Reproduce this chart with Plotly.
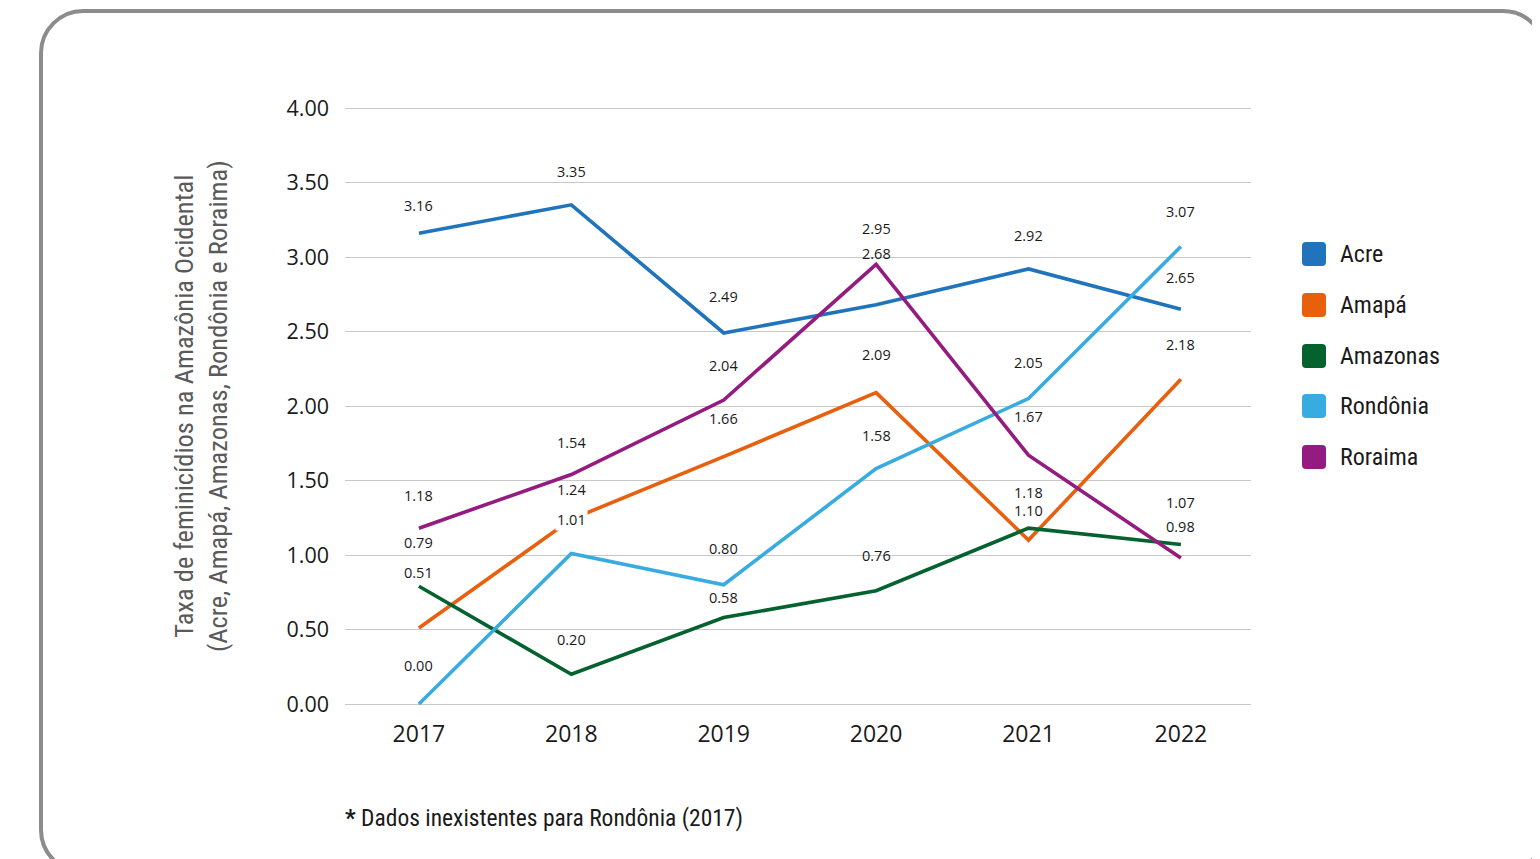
import plotly.graph_objects as go

# ---------------- data ----------------
years = [2017, 2018, 2019, 2020, 2021, 2022]
states = ["Acre", "Amapá", "Amazonas", "Rondônia", "Roraima"]
acre = [3.16, 3.35, 2.49, 2.68, 2.92, 2.65]
amapa = [0.51, 1.24, 1.66, 2.09, 1.10, 2.18]
amazonas = [0.79, 0.20, 0.58, 0.76, 1.18, 1.07]
rondonia = [0.00, 1.01, 0.80, 1.58, 2.05, 3.07]
roraima = [1.18, 1.54, 2.04, 2.95, 1.67, 0.98]
y_ticks = [0.0, 0.5, 1.0, 1.5, 2.0, 2.5, 3.0, 3.5, 4.0]
y_title = "Taxa de feminicídios na Amazônia Ocidental<br>(Acre, Amapá, Amazonas, Rondônia e Roraima)"
footnote = "<b>*</b> Dados inexistentes para Rondônia (2017)"

series = [acre, amapa, amazonas, rondonia, roraima]
colors = ["#2074BC", "#E8600E", "#04622F", "#38ABE0", "#941C80"]

# label vertical pixel offsets (style only), per series and year
label_shift = [
    [28, 33, 36, 51, 33, 32],   # Acre
    [56, 30, 38, 38, 30, 35],   # Amapá
    [44, 35, 20, 35, 36, 42],   # Amazonas
    [39, 34, 36, 33, 36, 35],   # Rondônia
    [33, 32, 35, 36, 39, 31],   # Roraima
]
# labels drawn on an opaque white box (series index, year index)
boxed_labels = {(3, 1)}

OFF = 8  # page body margin
W, H = 1540 - OFF, 859 - OFF
PAD = 3  # extra pixels so edge gridlines (0 and 4) are drawn
L, R, T, B = 345 - OFF, 1251 - OFF, 108 - OFF - PAD, 704 - OFF + PAD  # plot area in figure pixels
YPAD = PAD / 149.0


def px(x):
    x = x - OFF
    return (x - L) / (R - L)


def py(y):
    y = y - OFF
    return (B - y) / (B - T)


fig = go.Figure()
for name, vals, col in zip(states, series, colors):
    fig.add_trace(go.Scatter(x=years, y=vals, mode="lines", name=name,
                             line=dict(color=col, width=3.6), showlegend=False,
                             hoverinfo="x+y+name"))

annotations = []
for si, (vals, shifts) in enumerate(zip(series, label_shift)):
    for yi, (x, v, s) in enumerate(zip(years, vals, shifts)):
        ann = dict(x=x, y=v, text=f"{v:.2f}", showarrow=False,
                   yshift=s, xanchor="center", yanchor="middle",
                   font=dict(family="Open Sans, Noto Sans", size=14.5, color="#1a1a1a"))
        if (si, yi) in boxed_labels:
            ann.update(bgcolor="white", borderpad=1)
        annotations.append(ann)

COND = "Liberation Sans Narrow, Roboto Condensed, Roboto"
# y-axis title
annotations.append(dict(xref="paper", yref="paper", x=px(200), y=py(406), text=y_title,
                        showarrow=False, textangle=-90, xanchor="center", yanchor="middle",
                        font=dict(family=COND, size=26.5, color="#5a5a5a")))

# footnote
annotations.append(dict(xref="paper", yref="paper", x=px(343), y=py(818), text=footnote,
                        showarrow=False, xanchor="left", yanchor="middle",
                        font=dict(family=COND, size=23.5, color="#1a1a1a")))

shapes = []
# legend (manual rounded squares + labels)
leg_y = [254, 305, 356, 406, 457]
for name, col, ly in zip(states, colors, leg_y):
    x0, x1, y0, y1, r = 1302, 1326, ly - 12, ly + 12, 4
    path = (f"M {px(x0 + r)} {py(y0)} L {px(x1 - r)} {py(y0)} Q {px(x1)} {py(y0)} {px(x1)} {py(y0 + r)} "
            f"L {px(x1)} {py(y1 - r)} Q {px(x1)} {py(y1)} {px(x1 - r)} {py(y1)} "
            f"L {px(x0 + r)} {py(y1)} Q {px(x0)} {py(y1)} {px(x0)} {py(y1 - r)} "
            f"L {px(x0)} {py(y0 + r)} Q {px(x0)} {py(y0)} {px(x0 + r)} {py(y0)} Z")
    shapes.append(dict(type="path", xref="paper", yref="paper", path=path,
                       fillcolor=col, line=dict(width=0)))
    annotations.append(dict(xref="paper", yref="paper", x=px(1338), y=py(ly), text=name,
                            showarrow=False, xanchor="left", yanchor="middle",
                            font=dict(family=COND, size=24, color="#1a1a1a")))

# outer rounded border
bx0, bx1, by0, by1, br = 41, 1545, 11, 872, 42
border = (f"M {px(bx0 + br)} {py(by0)} L {px(bx1 - br)} {py(by0)} "
          f"C {px(bx1 - br * 0.45)} {py(by0)} {px(bx1)} {py(by0 + br * 0.45)} {px(bx1)} {py(by0 + br)} "
          f"L {px(bx1)} {py(by1 - br)} "
          f"C {px(bx1)} {py(by1 - br * 0.45)} {px(bx1 - br * 0.45)} {py(by1)} {px(bx1 - br)} {py(by1)} "
          f"L {px(bx0 + br)} {py(by1)} "
          f"C {px(bx0 + br * 0.45)} {py(by1)} {px(bx0)} {py(by1 - br * 0.45)} {px(bx0)} {py(by1 - br)} "
          f"L {px(bx0)} {py(by0 + br)} "
          f"C {px(bx0)} {py(by0 + br * 0.45)} {px(bx0 + br * 0.45)} {py(by0)} {px(bx0 + br)} {py(by0)} Z")
shapes.append(dict(type="path", xref="paper", yref="paper", path=border,
                   line=dict(color="#8c8c8c", width=4), fillcolor="rgba(0,0,0,0)", layer="below"))

fig.update_layout(
    width=W, height=H,
    margin=dict(l=L, r=W - R, t=T, b=H - B, pad=0),
    paper_bgcolor="white", plot_bgcolor="white",
    xaxis=dict(range=[2016.515, 2022.46], tickmode="array", tickvals=years,
               ticktext=[str(y) for y in years], showgrid=False, zeroline=False,
               showline=False, ticks="", ticklabelstandoff=11,
               tickfont=dict(family="Open Sans, Noto Sans", size=23, color="#1a1a1a")),
    yaxis=dict(range=[-YPAD, 4 + YPAD], tickmode="array", tickvals=y_ticks,
               ticktext=[f"{v:.2f}" for v in y_ticks], showgrid=True,
               gridcolor="#c8c8c8", gridwidth=1, zeroline=False, showline=False,
               ticks="", ticklabelstandoff=15,
               tickfont=dict(family="Open Sans, Noto Sans", size=21.5, color="#1a1a1a")),
    annotations=annotations,
    shapes=shapes,
    showlegend=False,
)

fig.write_html("out.html")
